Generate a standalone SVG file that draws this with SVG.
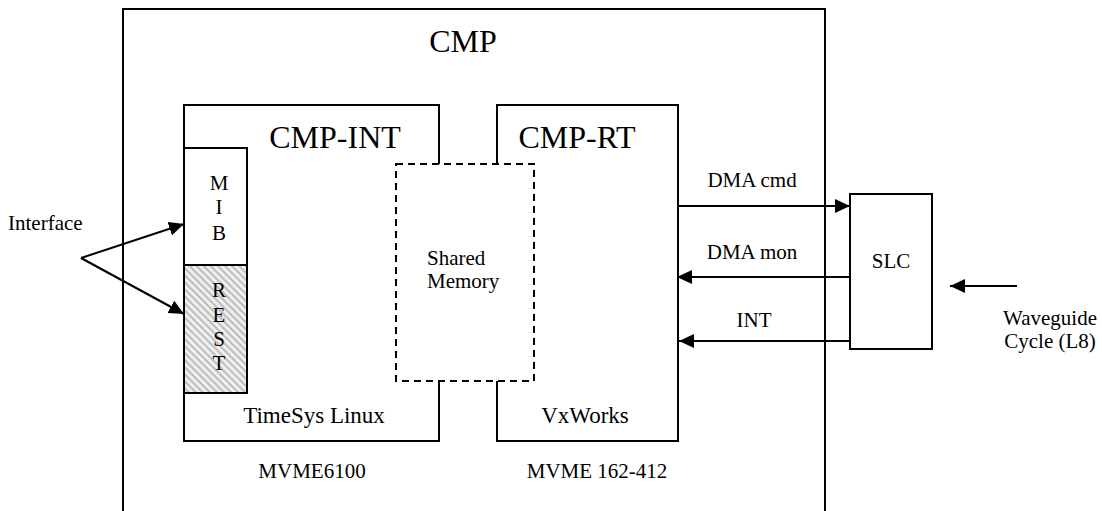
<svg xmlns="http://www.w3.org/2000/svg" width="1102" height="511" viewBox="0 0 1102 511">
  <defs>
    <style>
      text { font-family: "Liberation Serif", "Times New Roman", serif; fill: #000; }
      .title { font-size: 32px; }
      .lbl { font-size: 21px; }
      .os { font-size: 23px; }
      .box { fill: none; stroke: #000; stroke-width: 2; }
      .dash { fill: none; stroke: #000; stroke-width: 2; stroke-dasharray: 7 5; }
      .wire { fill: none; stroke: #000; stroke-width: 2; }
    </style>
    <marker id="arrow" viewBox="0 0 15 14" refX="15" refY="7" markerWidth="15" markerHeight="14" markerUnits="userSpaceOnUse" orient="auto">
      <path d="M0,0 L15,7 L0,14 Z" fill="#000"/>
    </marker>
    <pattern id="hatch" width="5" height="5" patternUnits="userSpaceOnUse" patternTransform="rotate(-45)">
      <rect width="5" height="5" fill="#efefef"/>
      <rect width="2" height="5" fill="#bdbdbd"/>
    </pattern>
  </defs>

  <!-- outer CMP enclosure (open at the bottom) -->
  <g id="cmp">
    <path class="box" d="M123,520 V9 H825 V520" stroke-width="1.5"/>
    <text class="title" x="463" y="52" text-anchor="middle">CMP</text>
  </g>

  <!-- CMP-INT board -->
  <g id="cmp-int">
    <path class="box" d="M439,164 V105 H184 V441 H439 V381"/>
    <text class="title" x="335" y="148" text-anchor="middle">CMP-INT</text>
    <text class="os" x="314" y="423" text-anchor="middle">TimeSys Linux</text>
  </g>

  <!-- CMP-RT board -->
  <g id="cmp-rt">
    <path class="box" d="M497,164 V105 H678 V441 H497 V381"/>
    <text class="title" x="577" y="148" text-anchor="middle">CMP-RT</text>
    <text class="os" x="585" y="423" text-anchor="middle">VxWorks</text>
  </g>

  <!-- shared memory region between boards -->
  <g id="shared-memory">
    <rect class="dash" x="396" y="164" width="138" height="217"/>
    <text class="lbl" x="427" y="265">Shared</text>
    <text class="lbl" x="427" y="288">Memory</text>
  </g>

  <!-- MIB interface -->
  <g id="mib">
    <rect class="box" x="184" y="148" width="63" height="117" fill="#fff"/>
    <text class="lbl" x="219" y="190" text-anchor="middle">M</text>
    <text class="lbl" x="219" y="214" text-anchor="middle">I</text>
    <text class="lbl" x="219" y="240" text-anchor="middle">B</text>
  </g>

  <!-- REST interface -->
  <g id="rest">
    <rect x="184" y="265" width="63" height="128" fill="url(#hatch)" stroke="#000" stroke-width="2"/>
    <text class="lbl" x="219" y="297" text-anchor="middle">R</text>
    <text class="lbl" x="219" y="322" text-anchor="middle">E</text>
    <text class="lbl" x="219" y="346" text-anchor="middle">S</text>
    <text class="lbl" x="219" y="370" text-anchor="middle">T</text>
  </g>

  <!-- SLC -->
  <g id="slc">
    <rect class="box" x="850" y="194" width="82" height="155"/>
    <text class="lbl" x="891" y="268" text-anchor="middle">SLC</text>
  </g>

  <!-- board labels -->
  <g id="board-labels">
    <text class="lbl" x="312" y="478" text-anchor="middle">MVME6100</text>
    <text class="lbl" x="597" y="478" text-anchor="middle">MVME 162-412</text>
  </g>

  <!-- external labels -->
  <g id="interface-label">
    <text class="lbl" x="8" y="230">Interface</text>
  </g>
  <g id="waveguide-label">
    <text class="lbl" x="1050" y="325" text-anchor="middle">Waveguide</text>
    <text class="lbl" x="1050" y="348" text-anchor="middle">Cycle (L8)</text>
  </g>

  <!-- connectors -->
  <g id="connectors">
    <line class="wire" x1="81" y1="258" x2="184" y2="224" marker-end="url(#arrow)"/>
    <line class="wire" x1="81" y1="258" x2="184" y2="314" marker-end="url(#arrow)"/>

    <line class="wire" x1="679" y1="206" x2="850" y2="206" marker-end="url(#arrow)"/>
    <text class="lbl" x="752" y="187" text-anchor="middle">DMA cmd</text>

    <line class="wire" x1="850" y1="277" x2="677" y2="277" marker-end="url(#arrow)"/>
    <text class="lbl" x="752" y="259" text-anchor="middle">DMA mon</text>

    <line class="wire" x1="850" y1="341" x2="679" y2="341" marker-end="url(#arrow)"/>
    <text class="lbl" x="754" y="327" text-anchor="middle">INT</text>

    <line class="wire" x1="1017" y1="286" x2="950" y2="286" marker-end="url(#arrow)"/>
  </g>
</svg>
